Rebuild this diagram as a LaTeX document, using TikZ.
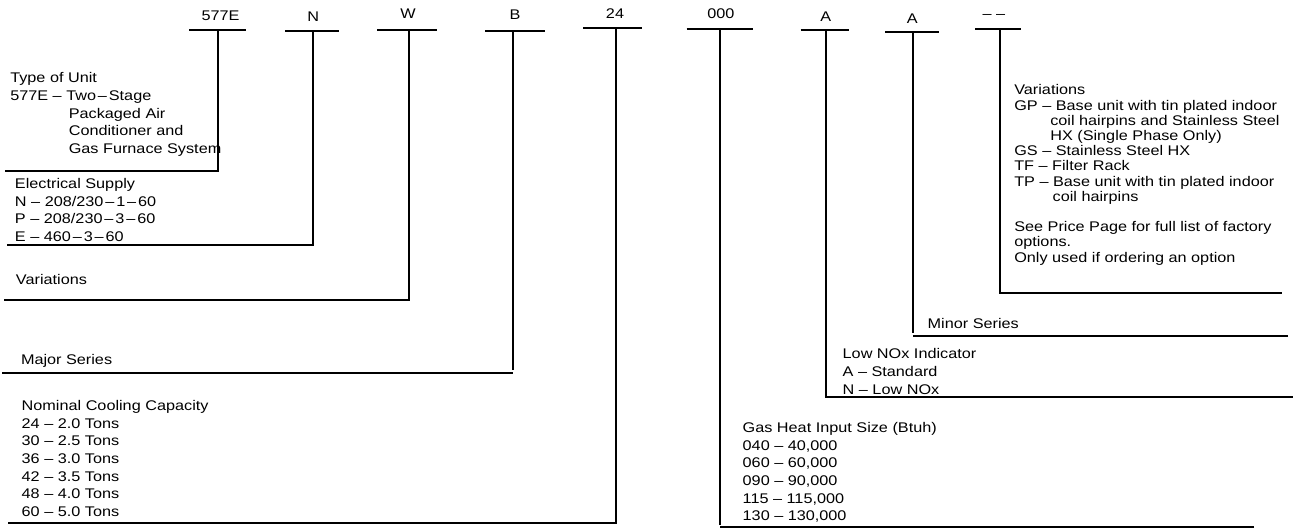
\documentclass[tikz,border=0pt]{standalone}
\usepackage{fontspec}
\setmainfont{Liberation Sans}[FakeStretch=1.16]
\newcommand{\mydash}{\kern1.9pt--\kern1.9pt}
\begin{document}
\begin{tikzpicture}[x=1pt,y=-1pt,line width=2pt,
  lbl/.style={inner sep=0pt,font=\fontsize{14}{17.6}\selectfont},
  txt/.style={inner sep=0pt,anchor=north west,align=left,font=\fontsize{14}{17.6}\selectfont},
  txtr/.style={txt,font=\fontsize{14}{15.2}\selectfont}]
\useasboundingbox (0,0) rectangle (1294,529);
% top labels
\node[lbl] (l1) at (220.5,15.7) {577E};
\node[lbl] (l2) at (313.3,16.7) {N};
\node[lbl] (l3) at (408,13.3) {W};
\node[lbl] (l4) at (515,15) {B};
\node[lbl] (l5) at (615,13.3) {24};
\node[lbl] (l6) at (720.8,13.3) {000};
\node[lbl] (l7) at (825.7,16.7) {A};
\node[lbl] (l8) at (912.3,18.3) {A};
\node[lbl] (l9) at (994,16.7) {-- --};
% bars
\draw (189,30) -- (246,30);
\draw (285,31.3) -- (339,31.3);
\draw (377,30.3) -- (436.7,30.3);
\draw (485,31) -- (545,31);
\draw (583,28.3) -- (642,28.3);
\draw (686.7,29) -- (752.7,29);
\draw (800.7,30) -- (849,30);
\draw (885,31.7) -- (939,31.7);
\draw (975.3,29.3) -- (1020.7,29.3);
% connector coordinates
\coordinate (t1) at (218.3,30);   \coordinate (e1) at (5,170.7);
\coordinate (t2) at (312.5,31.3); \coordinate (e2) at (7,245);
\coordinate (t3) at (408.5,30.3); \coordinate (e3) at (4,300);
\coordinate (t4) at (513.3,31);   \coordinate (e4) at (2,373.3);
\coordinate (t5) at (616,28.3);   \coordinate (e5) at (8,523);
\coordinate (t6) at (719.5,29);   \coordinate (e6) at (1254,527.2);
\coordinate (t7) at (825.5,30);   \coordinate (e7) at (1293,397.3);
\coordinate (t8) at (912.5,31.7); \coordinate (e8) at (1288,336.5);
\coordinate (t9) at (999.5,29.3); \coordinate (e9) at (1281.7,292.7);
\draw (t1) |- (e1);
\draw (t2) |- (e2);
\draw (t3) |- (e3);
\draw (t4) -- ([yshift=3pt]t4 |- e4); \draw (e4) -- (t4 |- e4);
\draw (t5) |- (e5);
\draw (t6) -- ([yshift=2pt]t6 |- e6); \draw (e6) -- (t6 |- e6);
\draw (t7) |- (e7);
\draw (t8) -- ([yshift=3pt]t8 |- e8); \draw (e8) -- (t8 |- e8);
\draw (t9) |- (e9);
% texts
\node[txt] (typ) at (9.3,71.8) {Type of Unit\\577E -- Two\mydash Stage\\\hspace*{58.5pt}Packaged Air\\\hspace*{58.5pt}Conditioner and\\\hspace*{58.5pt}Gas Furnace System};
\node[txt] (elec) at (14,177.5) {Electrical Supply\\N -- 208/230\mydash 1\mydash 60\\P -- 208/230\mydash 3\mydash 60\\E -- 460\mydash 3\mydash 60};
\node[txt] (var) at (15,273.2) {Variations};
\node[txt] (maj) at (20,353.5) {Major Series};
\node[txt] (nom) at (20.7,399.5) {Nominal Cooling Capacity\\24 -- 2.0 Tons\\30 -- 2.5 Tons\\36 -- 3.0 Tons\\42 -- 3.5 Tons\\48 -- 4.0 Tons\\60 -- 5.0 Tons};
\node[txtr] (rvar) at (1013.3,83.8) {Variations\\GP -- Base unit with tin plated indoor\\\hspace*{36pt}coil hairpins and Stainless Steel\\\hspace*{36pt}HX (Single Phase Only)\\GS -- Stainless Steel HX\\TF -- Filter Rack\\TP -- Base unit with tin plated indoor\\\hspace*{38.4pt}coil hairpins\\[15.2pt]See Price Page for full list of factory\\options.\\Only used if ordering an option};
\node[txt] (minor) at (926.7,317.2) {Minor Series};
\node[txt] (lownox) at (841.7,347.8) {Low NOx Indicator\\A -- Standard\\N -- Low NOx};
\node[txt] (gas) at (741.7,421.5) {Gas Heat Input Size (Btuh)\\040 -- 40,000\\060 -- 60,000\\090 -- 90,000\\115 -- 115,000\\130 -- 130,000};
\end{tikzpicture}
\end{document}
